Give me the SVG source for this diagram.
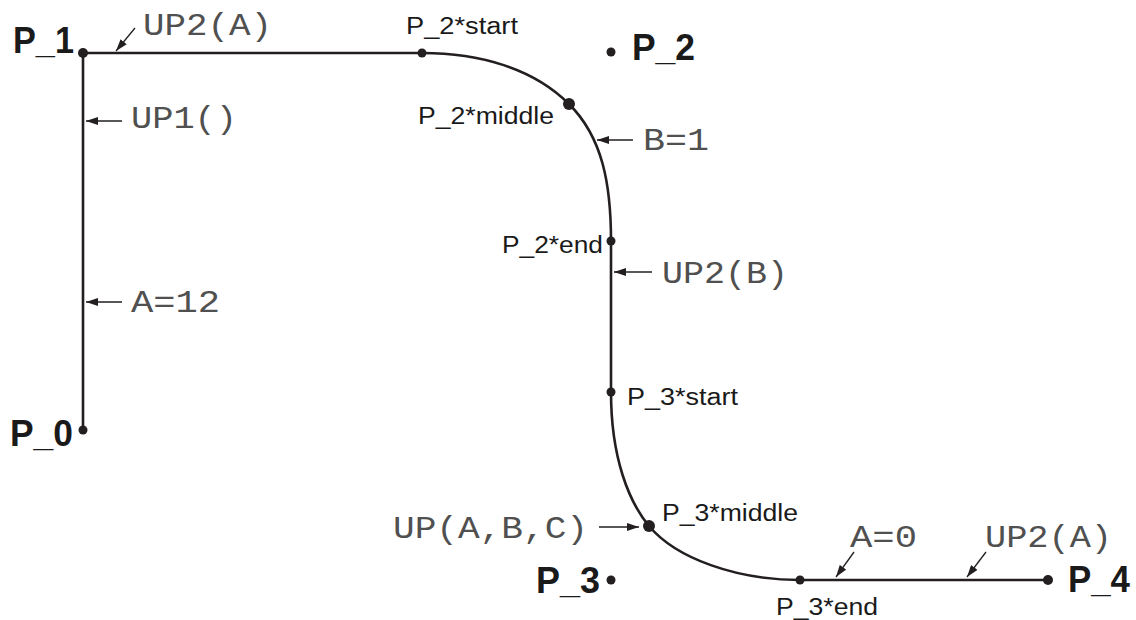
<svg xmlns="http://www.w3.org/2000/svg" width="1136" height="620" viewBox="0 0 1136 620">
  <style>
    .path { fill: none; stroke: #231f20; stroke-width: 2.6; stroke-linecap: round; }
    .dot { fill: #231f20; }
    .big { font-family: "Liberation Sans", Arial, sans-serif; font-weight: bold; font-size: 36px; fill: #1a1a1a; }
    .small { font-family: "Liberation Sans", Arial, sans-serif; font-size: 23px; fill: #1a1a1a; }
    .mono { font-family: "Liberation Mono", "Courier New", monospace; font-size: 31px; fill: #505050; }
    .arr { fill: none; stroke: #231f20; stroke-width: 1.3; marker-end: url(#ah); }
  </style>
  <defs>
    <marker id="ah" viewBox="0 0 12 8" refX="12" refY="4" markerWidth="12" markerHeight="8" markerUnits="userSpaceOnUse" orient="auto">
      <path d="M0,0 L12,4 L0,8 Z" fill="#231f20"/>
    </marker>
  </defs>
  <rect width="1136" height="620" fill="#ffffff"/>

  <g id="connectors">
    <path class="path" d="M83,430 L83,53 L422,53"/>
    <path class="path" d="M422,53 C479.6,53 533.3,68.3 569,104 C602.6,137.6 611,184 611,241"/>
    <path class="path" d="M611,241 L611,392"/>
    <path class="path" d="M611,392 C611,458 629,502 649,526 C676,558.4 736.4,580 800,580"/>
    <path class="path" d="M800,580 L1048,580"/>
  </g>

  <g id="P_0">
    <circle class="dot" cx="83" cy="430" r="4.5"/>
    <text class="big" x="10" y="446" textLength="63" lengthAdjust="spacingAndGlyphs">P_0</text>
  </g>
  <g id="P_1">
    <circle class="dot" cx="83" cy="53" r="5"/>
    <text class="big" x="13" y="53" textLength="61" lengthAdjust="spacingAndGlyphs">P_1</text>
  </g>
  <g id="P_2">
    <circle class="dot" cx="611" cy="52" r="4.5"/>
    <text class="big" x="632" y="60" textLength="63" lengthAdjust="spacingAndGlyphs">P_2</text>
  </g>
  <g id="P_3">
    <circle class="dot" cx="611" cy="580" r="4.5"/>
    <text class="big" x="536" y="593" textLength="64" lengthAdjust="spacingAndGlyphs">P_3</text>
  </g>
  <g id="P_4">
    <circle class="dot" cx="1048" cy="580" r="5"/>
    <text class="big" x="1068" y="592" textLength="62" lengthAdjust="spacingAndGlyphs">P_4</text>
  </g>
  <g id="P_2_start">
    <circle class="dot" cx="422" cy="53" r="4.5"/>
    <text class="small" x="406" y="34" textLength="112" lengthAdjust="spacingAndGlyphs">P_2*start</text>
  </g>
  <g id="P_2_middle">
    <circle class="dot" cx="569" cy="104" r="6"/>
    <text class="small" x="418" y="124" textLength="136" lengthAdjust="spacingAndGlyphs">P_2*middle</text>
  </g>
  <g id="P_2_end">
    <circle class="dot" cx="611" cy="241" r="4.5"/>
    <text class="small" x="502" y="253" textLength="101" lengthAdjust="spacingAndGlyphs">P_2*end</text>
  </g>
  <g id="P_3_start">
    <circle class="dot" cx="611" cy="392" r="4.5"/>
    <text class="small" x="627" y="405" textLength="111" lengthAdjust="spacingAndGlyphs">P_3*start</text>
  </g>
  <g id="P_3_middle">
    <circle class="dot" cx="649" cy="526" r="6"/>
    <text class="small" x="662" y="521" textLength="136" lengthAdjust="spacingAndGlyphs">P_3*middle</text>
  </g>
  <g id="P_3_end">
    <circle class="dot" cx="800" cy="580" r="4.5"/>
    <text class="small" x="776" y="615" textLength="102" lengthAdjust="spacingAndGlyphs">P_3*end</text>
  </g>

  <g id="annotations">
    <line class="arr" x1="135" y1="28" x2="116" y2="51"/>
    <text class="mono" x="143" y="35" textLength="129" lengthAdjust="spacingAndGlyphs">UP2(A)</text>
    <line class="arr" x1="122" y1="121" x2="86" y2="121"/>
    <text class="mono" x="131" y="128" textLength="106" lengthAdjust="spacingAndGlyphs">UP1()</text>
    <line class="arr" x1="122" y1="302" x2="86" y2="302"/>
    <text class="mono" x="131" y="312" textLength="89" lengthAdjust="spacingAndGlyphs">A=12</text>
    <line class="arr" x1="633" y1="140" x2="597" y2="140"/>
    <text class="mono" x="643" y="150" textLength="66" lengthAdjust="spacingAndGlyphs">B=1</text>
    <line class="arr" x1="652" y1="272" x2="614" y2="272"/>
    <text class="mono" x="662" y="283" textLength="126" lengthAdjust="spacingAndGlyphs">UP2(B)</text>
    <line class="arr" x1="599" y1="527" x2="639" y2="527"/>
    <text class="mono" x="393" y="538" textLength="195" lengthAdjust="spacingAndGlyphs">UP(A,B,C)</text>
    <line class="arr" x1="854" y1="552" x2="836" y2="577"/>
    <text class="mono" x="850" y="547" textLength="67" lengthAdjust="spacingAndGlyphs">A=0</text>
    <line class="arr" x1="986" y1="552" x2="967" y2="577"/>
    <text class="mono" x="985" y="547" textLength="127" lengthAdjust="spacingAndGlyphs">UP2(A)</text>
  </g>
</svg>
